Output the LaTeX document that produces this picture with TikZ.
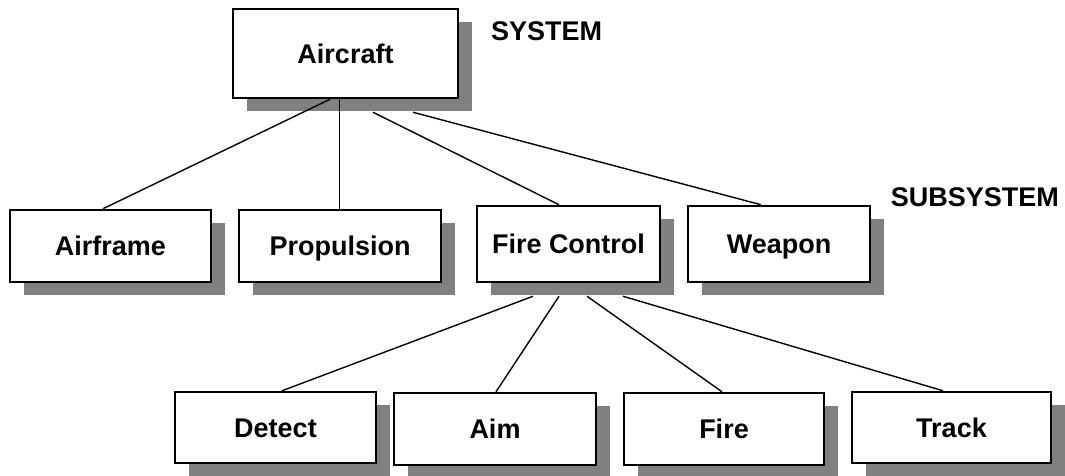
\documentclass[tikz,border=0pt]{standalone}
\usepackage{fontspec}
\setmainfont{Liberation Sans}
\usetikzlibrary{shadows}
\definecolor{shadowgray}{HTML}{808080}
\begin{document}
\begin{tikzpicture}[x=1pt,y=-1pt,
  box/.style={draw=black, line width=2.5pt, fill=white, inner sep=0pt,
    text height=19.3pt, text depth=0pt,
    font=\fontsize{27}{32}\selectfont\bfseries,
    drop shadow={shadow xshift=14pt, shadow yshift=-13pt, opacity=1, fill=shadowgray}},
  levellabel/.style={inner sep=0pt, anchor=base west, font=\fontsize{27}{32}\selectfont\bfseries},
  link/.style={draw=black, line width=1.4pt}]
\useasboundingbox (0,0) rectangle (1065,475);
% boxes
\node[box, minimum width=225pt, minimum height=89pt] (ac) at (345.5,53.5) {Aircraft};
\node[box, minimum width=201pt, minimum height=72pt] (af) at (110.5,246) {Airframe};
\node[box, minimum width=202pt, minimum height=72pt] (pr) at (340,246) {Propulsion};
\node[box, minimum width=183pt, minimum height=76pt] (fc) at (568.5,244) {Fire Control};
\node[box, minimum width=182pt, minimum height=76pt] (wp) at (779,244) {Weapon};
\node[box, minimum width=201pt, minimum height=71pt] (de) at (275.5,427.5) {Detect};
\node[box, minimum width=202pt, minimum height=72pt] (ai) at (495,429) {Aim};
\node[box, minimum width=200pt, minimum height=72pt] (fi) at (724,429) {Fire};
\node[box, minimum width=199pt, minimum height=71pt] (tr) at (951.5,427.5) {Track};
% level labels
\node[levellabel] (sys) at (491,40.7) {SYSTEM};
\node[levellabel] (sub) at (890.7,206.7) {SUBSYSTEM};
% connectors
\draw[link] ([xshift=-15.5pt]ac.south) -- ([xshift=-7.5pt]af.north);
\draw[link] ([xshift=-6pt]ac.south) -- ([xshift=-0.5pt]pr.north);
\draw[link] ([xshift=27.5pt,yshift=-13pt]ac.south) -- ([xshift=-9.5pt]fc.north);
\draw[link] ([xshift=67.5pt,yshift=-13pt]ac.south) -- ([xshift=-18pt]wp.north);
\draw[link] ([xshift=-35.5pt,yshift=-13pt]fc.south) -- ([xshift=6.5pt]de.north);
\draw[link] ([xshift=-9.5pt,yshift=-13pt]fc.south) -- ([xshift=1pt]ai.north);
\draw[link] ([xshift=18.5pt,yshift=-13pt]fc.south) -- ([xshift=-2pt]fi.north);
\draw[link] ([xshift=54.5pt,yshift=-13pt]fc.south) -- ([xshift=-8.5pt]tr.north);
\end{tikzpicture}
\end{document}
